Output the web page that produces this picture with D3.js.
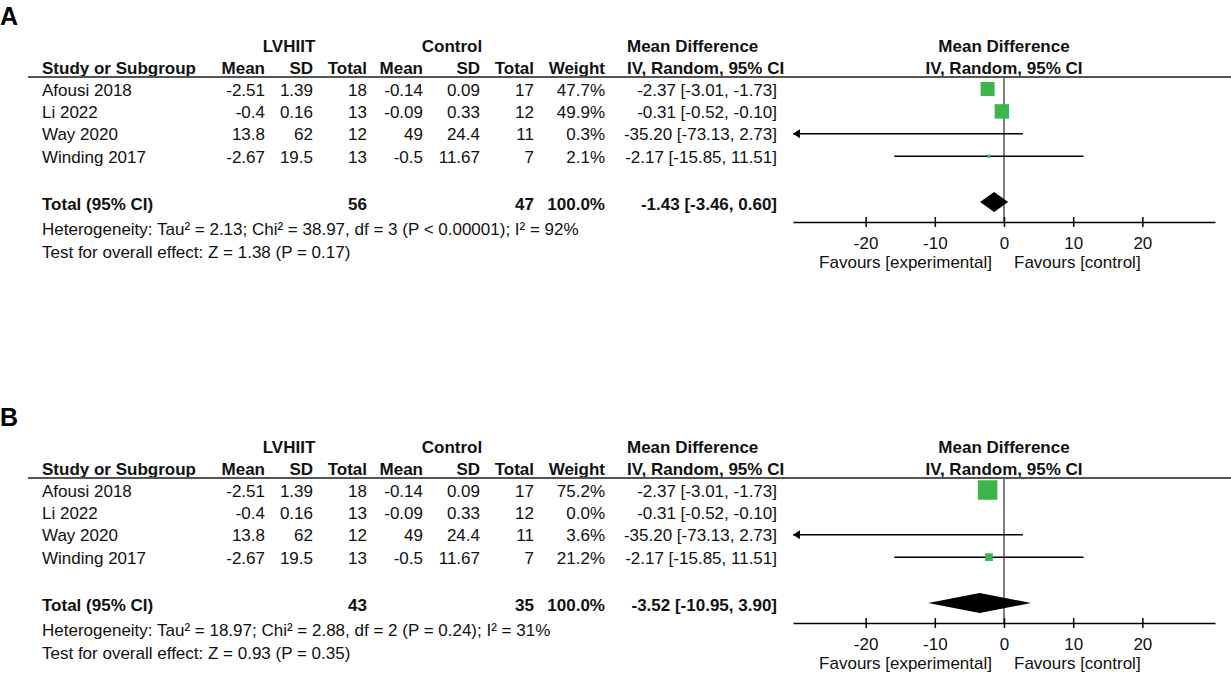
<!DOCTYPE html>
<html>
<head>
<meta charset="utf-8">
<script src="https://cdn.jsdelivr.net/npm/d3@7"></script>
<style>
  body { margin: 0; background: #fff; }
  svg { display: block; font-family: "Liberation Sans", Arial, sans-serif; }
</style>
</head>
<body>
<svg width="1231" height="673"></svg>
<script>
// study level data (same for both panels)
var studies = ['Afousi 2018', 'Li 2022', 'Way 2020', 'Winding 2017']
var lv_mean = [-2.51, -0.4, 13.8, -2.67]
var lv_sd = [1.39, 0.16, 62, 19.5]
var lv_total = [18, 13, 12, 13]
var ct_mean = [-0.14, -0.09, 49, -0.5]
var ct_sd = [0.09, 0.33, 24.4, 11.67]
var ct_total = [17, 12, 11, 7]
var md = [-2.37, -0.31, -35.20, -2.17]
var md_lo = [-3.01, -0.52, -73.13, -15.85]
var md_hi = [-1.73, -0.10, 2.73, 11.51]

// weights per panel
var weight_a = [47.7, 49.9, 0.3, 2.1]
var weight_b = [75.2, 0.0, 3.6, 21.2]

// pooled results
var panel_labels = ['A', 'B']
var pooled_lv_total = [56, 43]
var pooled_ct_total = [47, 35]
var pooled_md = [-1.43, -3.52]
var pooled_lo = [-3.46, -10.95]
var pooled_hi = [0.60, 3.90]
var heterogeneity = [
  'Heterogeneity: Tau² = 2.13; Chi² = 38.97, df = 3 (P < 0.00001); I² = 92%',
  'Heterogeneity: Tau² = 18.97; Chi² = 2.88, df = 2 (P = 0.24); I² = 31%'
]
var overall = [
  'Test for overall effect: Z = 1.38 (P = 0.17)',
  'Test for overall effect: Z = 0.93 (P = 0.35)'
]
var tick_values = [-20, -10, 0, 10, 20]

var green = '#3db54a'
var svg = d3.select('svg')

var x = d3.scaleLinear().domain([-30.5, 30.5]).range([793, 1215])
var box = d3.scalePow().exponent(0.73).domain([0, 100]).range([0, 24])

function ci_text (m, lo, hi) {
  return m.toFixed(2) + ' [' + lo.toFixed(2) + ', ' + hi.toFixed(2) + ']'
}

function text (g, str, xx, yy, anchor, bold) {
  return g.append('text')
    .attr('x', xx)
    .attr('y', yy)
    .attr('text-anchor', anchor || 'start')
    .attr('font-size', 17)
    .attr('font-weight', bold ? 'bold' : 'normal')
    .attr('fill', '#111')
    .text(str)
}

function draw_panel (p, weights, dy) {
  var g = svg.append('g').attr('transform', 'translate(0,' + dy + ')')

  g.append('text')
    .attr('x', 0).attr('y', 25)
    .attr('font-size', 25).attr('font-weight', 'bold')
    .text(panel_labels[p])

  // header
  text(g, 'LVHIIT', 289, 52, 'middle', true)
  text(g, 'Control', 452, 52, 'middle', true)
  text(g, 'Mean Difference', 627, 52, 'start', true)
  text(g, 'Mean Difference', x(0), 52, 'middle', true)
  text(g, 'Study or Subgroup', 42, 74, 'start', true)
  var cols = [['Mean', 265], ['SD', 313], ['Total', 367], ['Mean', 423], ['SD', 480], ['Total', 534], ['Weight', 605]]
  cols.forEach((c) => text(g, c[0], c[1], 74, 'end', true))
  text(g, 'IV, Random, 95% CI', 627, 74, 'start', true)
  text(g, 'IV, Random, 95% CI', x(0), 74, 'middle', true)

  g.append('line')
    .attr('x1', 28).attr('x2', 1231).attr('y1', 77).attr('y2', 77)
    .attr('stroke', '#555').attr('stroke-width', 2)

  var row_y = (i) => 89 + i * 22.4

  studies.forEach((s, i) => {
    var ty = row_y(i) + 6.5
    text(g, s, 42, ty)
    text(g, String(lv_mean[i]), 265, ty, 'end')
    text(g, String(lv_sd[i]), 313, ty, 'end')
    text(g, String(lv_total[i]), 367, ty, 'end')
    text(g, String(ct_mean[i]), 423, ty, 'end')
    text(g, String(ct_sd[i]), 480, ty, 'end')
    text(g, String(ct_total[i]), 534, ty, 'end')
    text(g, weights[i].toFixed(1) + '%', 605, ty, 'end')
    text(g, ci_text(md[i], md_lo[i], md_hi[i]), 777, ty, 'end')
  })

  // totals
  var tot_y = 210
  text(g, 'Total (95% CI)', 42, tot_y, 'start', true)
  text(g, String(pooled_lv_total[p]), 367, tot_y, 'end', true)
  text(g, String(pooled_ct_total[p]), 534, tot_y, 'end', true)
  text(g, '100.0%', 605, tot_y, 'end', true)
  text(g, ci_text(pooled_md[p], pooled_lo[p], pooled_hi[p]), 777, tot_y, 'end', true)
  text(g, heterogeneity[p], 42, 235)
  text(g, overall[p], 42, 258)

  // forest plot
  var axis_y = 222
  g.append('line')
    .attr('x1', x(0)).attr('x2', x(0)).attr('y1', 77).attr('y2', axis_y)
    .attr('stroke', '#555').attr('stroke-width', 1.5)

  var lo_lim = x.domain()[0], hi_lim = x.domain()[1]
  studies.forEach((s, i) => {
    if (weights[i] <= 0) return   // excluded study, nothing drawn
    var cy = row_y(i)
    var lo = Math.max(md_lo[i], lo_lim), hi = Math.min(md_hi[i], hi_lim)
    g.append('line')
      .attr('x1', x(lo)).attr('x2', x(hi)).attr('y1', cy).attr('y2', cy)
      .attr('stroke', '#000').attr('stroke-width', 1.5)
    if (md_lo[i] < lo_lim) {
      var ax = x(lo_lim)
      g.append('polygon')
        .attr('points', [[ax, cy], [ax + 7, cy - 4.5], [ax + 7, cy + 4.5]].join(' '))
        .attr('fill', '#000')
    }
    if (md[i] > lo_lim && md[i] < hi_lim) {
      var side = Math.max(box(weights[i]), 3)
      g.append('rect')
        .attr('x', x(md[i]) - side / 2).attr('y', cy - side / 2)
        .attr('width', side).attr('height', side)
        .attr('fill', green)
    }
  })

  var dcy = 202
  g.append('polygon')
    .attr('points', [
      [x(pooled_lo[p]), dcy], [x(pooled_md[p]), dcy - 10],
      [x(pooled_hi[p]), dcy], [x(pooled_md[p]), dcy + 10]
    ].join(' '))
    .attr('fill', '#000')

  var axis = g.append('g')
    .attr('transform', 'translate(0,' + axis_y + ')')
    .call(d3.axisBottom(x).tickValues(tick_values).tickSize(5).tickSizeOuter(0)
      .tickFormat((d) => String(d)))
  axis.select('.domain').attr('stroke-width', 1.5)
  axis.selectAll('.tick line').attr('y1', -5).attr('y2', 5).attr('stroke-width', 1.5)
  axis.selectAll('.tick text')
    .attr('y', 27).attr('dy', null)
    .attr('font-size', 17).attr('font-family', null).attr('fill', '#111')

  text(g, 'Favours [experimental]', x(0) - 12, 268, 'end')
  text(g, 'Favours [control]', x(0) + 10, 268, 'start')
}

draw_panel(0, weight_a, 0)
draw_panel(1, weight_b, 401)
</script>
</body>
</html>
